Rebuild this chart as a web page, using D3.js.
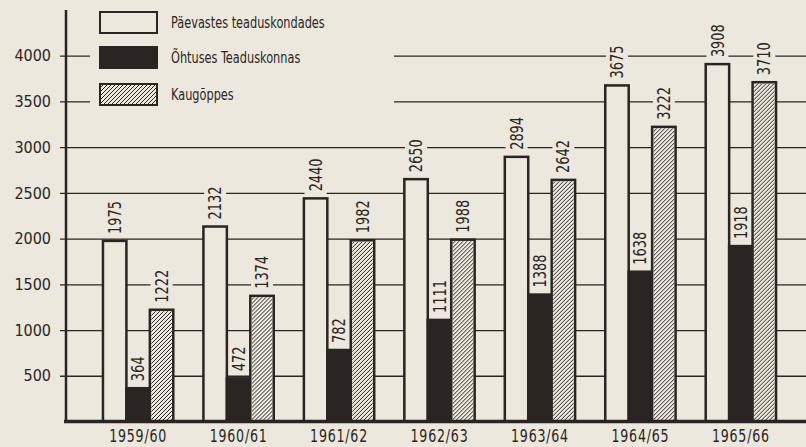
<!doctype html>
<html lang="et">
<head>
<meta charset="utf-8">
<title>Üliõpilaste arv</title>
<script src="https://d3js.org/d3.v7.min.js"></script>
<style>
  html, body { margin: 0; padding: 0; background: #ece8de; }
  svg { display: block; }
</style>
</head>
<body>
<svg id="chart" width="806" height="447"></svg>
<script>
// data
var years = ["1959/60", "1960/61", "1961/62", "1962/63", "1963/64", "1964/65", "1965/66"];
var seriesNames = ["Päevastes teaduskondades", "Õhtuses Teaduskonnas", "Kaugõppes"];
var dayValues = [1975, 2132, 2440, 2650, 2894, 3675, 3908];
var eveningValues = [364, 472, 782, 1111, 1388, 1638, 1918];
var distanceValues = [1222, 1374, 1982, 1988, 2642, 3222, 3710];
var yTicks = [500, 1000, 1500, 2000, 2500, 3000, 3500, 4000];

var paper = "#ece8de", ink = "#2a2522";
var cond = "'DejaVu Sans Condensed', 'DejaVu Sans', sans-serif";

var svg = d3.select("#chart");
var width = 806;

// hatch pattern for the distance learning bars
var defs = svg.append("defs");
defs.append("pattern")
  .attr("id", "hatch")
  .attr("patternUnits", "userSpaceOnUse")
  .attr("width", 4).attr("height", 4)
  .append("path")
  .attr("d", "M-1,1 l2,-2 M0,4 l4,-4 M3,5 l2,-2")
  .attr("stroke", ink).attr("stroke-width", 1);

var y = d3.scaleLinear().domain([0, 4000]).range([421.5, 55.7]);
var x0 = d3.scaleBand().domain(years).range([65, 814]).paddingInner(0.3).paddingOuter(0.378);
var x1 = d3.scaleBand().domain(seriesNames).range([0, x0.bandwidth()]);

var rows = years.map(function(yr, i) {
  return { year: yr, vals: [dayValues[i], eveningValues[i], distanceValues[i]] };
});

// gridlines (also the tick marks)
var yAxis = d3.axisLeft(y).tickValues(yTicks).tickFormat(d3.format("d"))
  .tickSize(-(width - 60)).tickPadding(9);
var gAxis = svg.append("g").attr("transform", "translate(60,0)").call(yAxis);
gAxis.select(".domain").remove();
gAxis.selectAll(".tick line").attr("stroke", ink).attr("stroke-width", 1.3);
gAxis.selectAll(".tick text")
  .attr("fill", ink)
  .style("font-family", cond)
  .style("font-size", "16px");

// legend area hides the gridlines behind it
svg.append("rect").attr("x", 90).attr("y", 0).attr("width", 304).attr("height", 114).attr("fill", paper);

var groups = svg.selectAll(".grp").data(rows).enter().append("g")
  .attr("class", "grp")
  .attr("transform", function(d) { return "translate(" + x0(d.year) + ",0)"; });

var items = function(d) {
  return d.vals.map(function(v, j) { return { name: seriesNames[j], value: v, j: j }; });
};

// label backgrounds break the gridlines
groups.selectAll(".lblbg").data(items).enter().append("rect")
  .attr("class", "lblbg")
  .attr("x", function(d) { return x1(d.name) + x1.bandwidth() / 2 - 11; })
  .attr("width", 22)
  .attr("y", function(d) { return y(d.value) - 4 - (d.value >= 1000 ? 40 : 32); })
  .attr("height", function(d) { return d.value >= 1000 ? 40 : 32; })
  .attr("fill", paper);

// bars
groups.selectAll(".bar").data(items).enter().append("rect")
  .attr("class", "bar")
  .attr("x", function(d) { return x1(d.name); })
  .attr("width", x1.bandwidth())
  .attr("y", function(d) { return y(d.value); })
  .attr("height", function(d) { return y(0) - y(d.value); })
  .attr("fill", function(d) { return d.j === 1 ? ink : paper; })
  .attr("stroke", ink)
  .attr("stroke-width", 2.5);

groups.selectAll(".hatchbar").data(function(d) { return items(d).filter(function(e) { return e.j === 2; }); })
  .enter().append("rect")
  .attr("x", function(d) { return x1(d.name) + 1.5; })
  .attr("width", x1.bandwidth() - 3)
  .attr("y", function(d) { return y(d.value) + 1.5; })
  .attr("height", function(d) { return y(0) - y(d.value) - 1.5; })
  .attr("fill", "url(#hatch)");

// value labels, narrow lettering
groups.selectAll(".val").data(items).enter().append("text")
  .attr("class", "val")
  .attr("transform", function(d) {
    return "translate(" + (x1(d.name) + x1.bandwidth() / 2) + "," + (y(d.value) - 7) + ") rotate(-90) scale(0.8,1)";
  })
  .attr("dominant-baseline", "central")
  .attr("text-anchor", "start")
  .attr("fill", ink)
  .style("font-family", cond)
  .style("font-size", "18px")
  .text(function(d) { return d.value; });

// axes lines
svg.append("line").attr("x1", 66).attr("x2", 66).attr("y1", 10).attr("y2", y(0))
  .attr("stroke", ink).attr("stroke-width", 2.5);
svg.append("line").attr("x1", 64).attr("x2", width).attr("y1", y(0)).attr("y2", y(0))
  .attr("stroke", ink).attr("stroke-width", 3.5);

// x labels
svg.selectAll(".xl").data(years).enter().append("text")
  .attr("transform", function(d) { return "translate(" + (x0(d) + x0.bandwidth() / 2) + ",442) scale(0.78,1)"; })
  .attr("text-anchor", "middle")
  .attr("fill", ink)
  .style("font-family", cond)
  .style("font-size", "18px")
  .style("letter-spacing", "1px")
  .text(function(d) { return d; });

// legend
var legY = [12, 47, 84];
var leg = svg.selectAll(".leg").data(seriesNames).enter().append("g")
  .attr("transform", function(d, i) { return "translate(100," + legY[i] + ")"; });
leg.append("rect")
  .attr("width", 57).attr("height", 21)
  .attr("fill", function(d, i) { return i === 1 ? ink : paper; })
  .attr("stroke", ink).attr("stroke-width", 2);
leg.filter(function(d, i) { return i === 2; }).append("rect")
  .attr("x", 1).attr("y", 1).attr("width", 55).attr("height", 19)
  .attr("fill", "url(#hatch)");
leg.append("text")
  .attr("transform", "translate(71,11) scale(0.84,1)")
  .attr("dominant-baseline", "central")
  .attr("fill", ink)
  .style("font-family", cond)
  .style("font-size", "15px")
  .text(function(d) { return d; });
</script>
</body>
</html>
